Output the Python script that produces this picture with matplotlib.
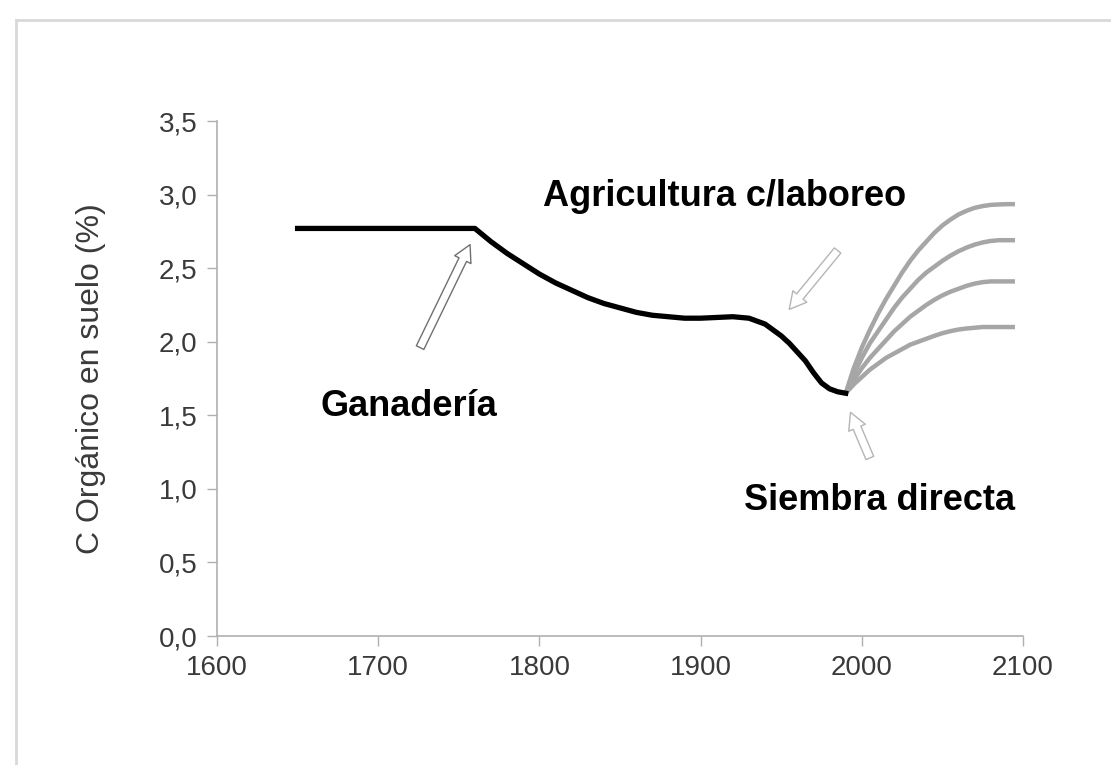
import matplotlib
matplotlib.use('Agg')
import matplotlib.pyplot as plt
from matplotlib.lines import Line2D

plt.rcParams['font.family'] = ['Liberation Sans', 'DejaVu Sans']

# Historic curve (black)
hist_years = [1650, 1760, 1770, 1780, 1790, 1800, 1810, 1820, 1830, 1840, 1850, 1860,
              1870, 1880, 1890, 1900, 1910, 1920, 1930, 1940, 1950, 1955, 1960, 1965,
              1970, 1975, 1980, 1985, 1990]
hist_carbon = [2.77, 2.77, 2.68, 2.60, 2.53, 2.46, 2.40, 2.35, 2.30, 2.26, 2.23, 2.20,
               2.18, 2.17, 2.16, 2.16, 2.165, 2.17, 2.16, 2.12, 2.04, 1.99, 1.93, 1.87,
               1.79, 1.72, 1.68, 1.66, 1.65]

# Future scenarios under no-till (grey)
fut_years = [1990, 1995, 2000, 2005, 2010, 2015, 2020, 2025, 2030, 2035, 2040,
             2045, 2050, 2055, 2060, 2065, 2070, 2075, 2080, 2085, 2090, 2095]
fut_high = [1.65, 1.82, 1.96, 2.08, 2.19, 2.29, 2.38, 2.47, 2.55, 2.62, 2.68,
            2.74, 2.79, 2.83, 2.865, 2.89, 2.91, 2.922, 2.93, 2.933, 2.935, 2.935]
fut_mid_high = [1.65, 1.78, 1.89, 1.99, 2.07, 2.15, 2.23, 2.30, 2.36, 2.42, 2.47,
                2.51, 2.55, 2.585, 2.615, 2.64, 2.66, 2.675, 2.685, 2.69, 2.69, 2.69]
fut_mid_low = [1.65, 1.74, 1.82, 1.89, 1.95, 2.01, 2.07, 2.12, 2.17, 2.21, 2.25,
               2.285, 2.315, 2.34, 2.36, 2.38, 2.395, 2.405, 2.41, 2.41, 2.41, 2.41]
fut_low = [1.65, 1.71, 1.76, 1.81, 1.85, 1.89, 1.92, 1.95, 1.98, 2.00, 2.02,
           2.04, 2.058, 2.072, 2.083, 2.09, 2.095, 2.10, 2.10, 2.10, 2.10, 2.10]

x_ticks = [1600, 1700, 1800, 1900, 2000, 2100]
y_ticks = [0.0, 0.5, 1.0, 1.5, 2.0, 2.5, 3.0, 3.5]
y_tick_labels = ['0,0', '0,5', '1,0', '1,5', '2,0', '2,5', '3,0', '3,5']

fig = plt.figure(figsize=(11.11, 7.65), dpi=100)
ax = fig.add_axes([0.1953, 0.1686, 0.7255, 0.6732])

for vals in [fut_high, fut_mid_high, fut_mid_low, fut_low]:
    ax.plot(fut_years, vals, color='#a6a6a6', lw=3.2, solid_capstyle='butt',
            solid_joinstyle='round', zorder=2)
ax.plot(hist_years, hist_carbon, color='black', lw=3.8, solid_joinstyle='round', zorder=3)

ax.set_xlim(1600, 2100)
ax.set_ylim(0, 3.5)
ax.set_xticks(x_ticks)
ax.set_yticks(y_ticks)
ax.set_yticklabels(y_tick_labels)
ax.tick_params(direction='out', length=7, width=1, color='#b0b0b0',
               labelsize=20, labelcolor='#3a3a3a', pad=7)
for side in ['top', 'right']:
    ax.spines[side].set_visible(False)
for side in ['left', 'bottom']:
    ax.spines[side].set_color('#b0b0b0')
    ax.spines[side].set_linewidth(1.2)

ax.set_ylabel('C Orgánico en suelo (%)', fontsize=23, color='#3a3a3a')
ax.yaxis.set_label_coords(-0.138, 0.5)

# Labels
ax.text(1719, 1.56, 'Ganadería', fontsize=26, fontweight='bold', ha='center', va='center')
ax.text(1915, 2.99, 'Agricultura c/laboreo', fontsize=26, fontweight='bold', ha='center', va='center')
ax.text(2011, 0.92, 'Siembra directa', fontsize=26, fontweight='bold', ha='center', va='center')

# Hollow block arrows
def block_arrow(tail, tip, edge):
    ax.annotate('', xy=tip, xytext=tail,
                arrowprops=dict(arrowstyle='simple,head_length=12,head_width=13,tail_width=6',
                                mutation_scale=1, fc='white', ec=edge, lw=1.0,
                                shrinkA=0, shrinkB=0), zorder=4)

block_arrow((1726, 1.96), (1757, 2.66), '#707070')
block_arrow((1985, 2.62), (1955, 2.22), '#b5b5b5')
block_arrow((2005, 1.21), (1993, 1.52), '#b5b5b5')

# Outer frame
fig.add_artist(Line2D([16 / 1111, 1.0], [1 - 20 / 765, 1 - 20 / 765],
                      transform=fig.transFigure, color='#d8d8d8', lw=2))
fig.add_artist(Line2D([16 / 1111, 16 / 1111], [0.0, 1 - 20 / 765],
                      transform=fig.transFigure, color='#d8d8d8', lw=2))

fig.savefig('out.png', dpi=100)
